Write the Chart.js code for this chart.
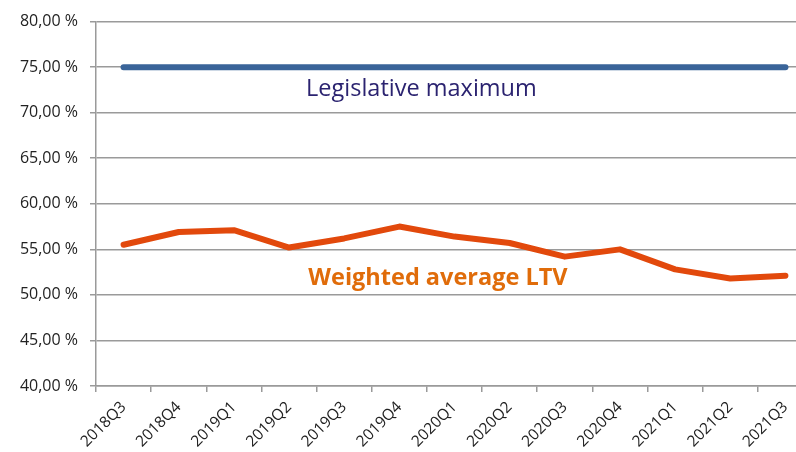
<!DOCTYPE html>
<html lang="en">
<head>
  <meta charset="UTF-8">
  <title>Weighted average LTV</title>
  <script src="https://cdn.jsdelivr.net/npm/chart.js"></script>
  <style>
    html, body { margin: 0; padding: 0; background: #fff; overflow: hidden; }
    /* the original picture is cropped on the right, so the chart is a bit wider than the window */
    #wrap { width: 816px; height: 452px; }
  </style>
</head>
<body>
  <div id="wrap"><canvas id="ltvChart"></canvas></div>

  <script>
    const quarters = ['2018Q3', '2018Q4', '2019Q1', '2019Q2', '2019Q3', '2019Q4', '2020Q1',
                      '2020Q2', '2020Q3', '2020Q4', '2021Q1', '2021Q2', '2021Q3'];
    const weightedLtv = [55.5, 56.9, 57.1, 55.2, 56.2, 57.5, 56.4, 55.7, 54.2, 55.0, 52.8, 51.8, 52.1];
    const legislativeMax = [75, 75, 75, 75, 75, 75, 75, 75, 75, 75, 75, 75, 75];
    const yTicks = [40, 45, 50, 55, 60, 65, 70, 75, 80];

    // in-chart labels: text, category position, value position
    const seriesLabels = [
      { text: 'Legislative maximum', x: 5.4, y: 71.8, color: '#2b2370', weight: 'normal', size: 23.5 },
      { text: 'Weighted average LTV', x: 5.7, y: 51.1, color: '#e06c0a', weight: 'bold', size: 23.5 }
    ];

    const labelPlugin = {
      id: 'seriesLabels',
      afterDatasetsDraw(chart) {
        const ctx = chart.ctx;
        const xs = chart.scales.x, ys = chart.scales.y;
        ctx.save();
        ctx.textAlign = 'center';
        ctx.textBaseline = 'alphabetic';
        seriesLabels.forEach(l => {
          ctx.font = l.weight + ' ' + l.size + 'px "Open Sans"';
          ctx.fillStyle = l.color;
          ctx.fillText(l.text, xs.getPixelForValue(l.x), ys.getPixelForValue(l.y));
        });
        ctx.restore();
      }
    };

    new Chart(document.getElementById('ltvChart'), {
      type: 'line',
      data: {
        labels: quarters,
        datasets: [{
          label: 'Legislative maximum',
          data: legislativeMax,
          borderColor: '#3a6499',
          borderWidth: 6,
          borderCapStyle: 'round',
          pointRadius: 0,
          tension: 0
        }, {
          label: 'Weighted average LTV',
          data: weightedLtv,
          borderColor: '#e2490c',
          borderWidth: 6,
          borderCapStyle: 'round',
          borderJoinStyle: 'round',
          pointRadius: 0,
          tension: 0
        }]
      },
      options: {
        responsive: true,
        maintainAspectRatio: false,
        animation: false,
        layout: { padding: { top: 12, right: 3, left: 0, bottom: 0 } },
        plugins: { legend: { display: false }, tooltip: { enabled: false } },
        scales: {
          x: {
            offset: true,
            grid: { offset: true, drawOnChartArea: false, color: '#9a9a9a', lineWidth: 1.5, tickLength: 6 },
            border: { color: '#9a9a9a', width: 1.5 },
            ticks: {
              color: '#222',
              font: { family: 'Open Sans', size: 15.5 },
              minRotation: 45,
              maxRotation: 45,
              autoSkip: false,
              padding: 6
            },
            afterFit(scale) { scale.height = 66; }
          },
          y: {
            min: 40,
            max: 80,
            afterBuildTicks(scale) { scale.ticks = yTicks.map(v => ({ value: v })); },
            grid: { color: '#9a9a9a', lineWidth: 1.5, tickLength: 6 },
            border: { color: '#9a9a9a', width: 1.5 },
            ticks: {
              color: '#222',
              font: { family: 'Open Sans', size: 16 },
              padding: 12,
              callback: v => v.toFixed(2).replace('.', ',') + ' %'
            },
            afterFit(scale) { scale.width = 96; }
          }
        }
      },
      plugins: [labelPlugin]
    });
  </script>
</body>
</html>
